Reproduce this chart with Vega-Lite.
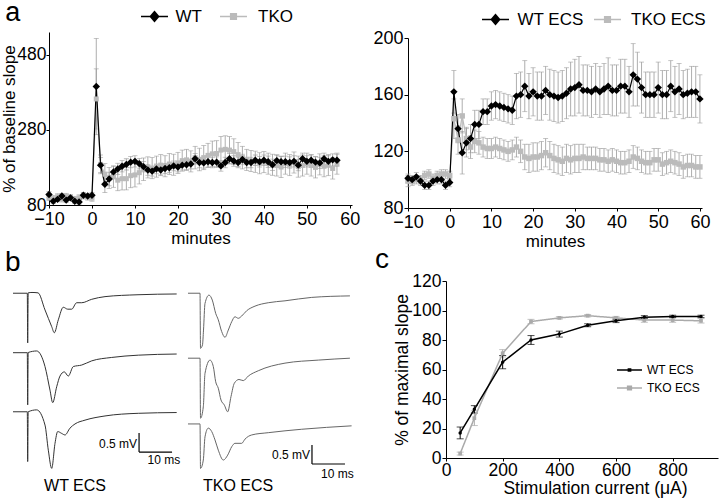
{
"$schema": "https://vega.github.io/schema/vega-lite/v6.json",
"width": 720, "height": 498,
"autosize": {"type": "none"},
"padding": 0,
"background": "white",
"config": {
  "font": "Liberation Sans",
  "view": {"stroke": null},
  "axis": {"domainColor": "#000", "tickColor": "#000", "labelColor": "#000", "titleColor": "#000", "grid": false, "labelFont": "Liberation Sans", "titleFont": "Liberation Sans", "titleFontWeight": "normal", "domainWidth": 1, "tickWidth": 1, "labelFlush": false, "labelOverlap": false},
  "legend": {"labelFont": "Liberation Sans", "labelColor": "#000"},
  "text": {"font": "Liberation Sans", "color": "#000"}
},
"datasets": {
  "aL": [
    {"t":-10,"g":"TKO","m":100,"e":8},{"t":-9,"g":"TKO","m":97,"e":8},{"t":-8,"g":"TKO","m":102,"e":8},{"t":-7,"g":"TKO","m":96,"e":8},{"t":-6,"g":"TKO","m":103,"e":8},{"t":-5,"g":"TKO","m":100,"e":8},{"t":-4,"g":"TKO","m":95,"e":8},{"t":-3,"g":"TKO","m":99,"e":8},{"t":-2,"g":"TKO","m":104,"e":8},{"t":-1,"g":"TKO","m":101,"e":8},{"t":0,"g":"TKO","m":98,"e":8},
    {"t":1,"g":"TKO","m":362,"e":80},{"t":2,"g":"TKO","m":188,"e":25},{"t":3,"g":"TKO","m":162,"e":28},{"t":4,"g":"TKO","m":152,"e":28},{"t":5,"g":"TKO","m":155,"e":28},{"t":6,"g":"TKO","m":146,"e":28},{"t":7,"g":"TKO","m":150,"e":30},{"t":8,"g":"TKO","m":150,"e":30},{"t":9,"g":"TKO","m":158,"e":32},{"t":10,"g":"TKO","m":160,"e":32},
    {"t":11,"g":"TKO","m":166,"e":30},{"t":12,"g":"TKO","m":175,"e":30},{"t":13,"g":"TKO","m":180,"e":28},{"t":14,"g":"TKO","m":178,"e":28},{"t":15,"g":"TKO","m":182,"e":28},{"t":16,"g":"TKO","m":186,"e":28},{"t":17,"g":"TKO","m":183,"e":28},{"t":18,"g":"TKO","m":189,"e":28},{"t":19,"g":"TKO","m":187,"e":28},{"t":20,"g":"TKO","m":192,"e":28},
    {"t":21,"g":"TKO","m":198,"e":28},{"t":22,"g":"TKO","m":200,"e":28},{"t":23,"g":"TKO","m":196,"e":28},{"t":24,"g":"TKO","m":206,"e":30},{"t":25,"g":"TKO","m":201,"e":30},{"t":26,"g":"TKO","m":206,"e":32},{"t":27,"g":"TKO","m":212,"e":32},{"t":28,"g":"TKO","m":216,"e":34},{"t":29,"g":"TKO","m":217,"e":34},{"t":30,"g":"TKO","m":226,"e":36},
    {"t":31,"g":"TKO","m":228,"e":36},{"t":32,"g":"TKO","m":226,"e":36},{"t":33,"g":"TKO","m":222,"e":34},{"t":34,"g":"TKO","m":214,"e":32},{"t":35,"g":"TKO","m":206,"e":30},{"t":36,"g":"TKO","m":200,"e":28},{"t":37,"g":"TKO","m":197,"e":28},{"t":38,"g":"TKO","m":195,"e":28},{"t":39,"g":"TKO","m":191,"e":28},{"t":40,"g":"TKO","m":194,"e":28},
    {"t":41,"g":"TKO","m":190,"e":28},{"t":42,"g":"TKO","m":187,"e":28},{"t":43,"g":"TKO","m":185,"e":28},{"t":44,"g":"TKO","m":181,"e":28},{"t":45,"g":"TKO","m":190,"e":28},{"t":46,"g":"TKO","m":186,"e":28},{"t":47,"g":"TKO","m":193,"e":28},{"t":48,"g":"TKO","m":182,"e":28},{"t":49,"g":"TKO","m":185,"e":28},{"t":50,"g":"TKO","m":190,"e":28},
    {"t":51,"g":"TKO","m":185,"e":28},{"t":52,"g":"TKO","m":180,"e":28},{"t":53,"g":"TKO","m":188,"e":28},{"t":54,"g":"TKO","m":183,"e":28},{"t":55,"g":"TKO","m":186,"e":28},{"t":56,"g":"TKO","m":177,"e":28},{"t":57,"g":"TKO","m":190,"e":28},
    {"t":-10,"g":"WT","m":108,"e":8},{"t":-9,"g":"WT","m":90,"e":6},{"t":-8,"g":"WT","m":95,"e":6},{"t":-7,"g":"WT","m":104,"e":6},{"t":-6,"g":"WT","m":93,"e":6},{"t":-5,"g":"WT","m":99,"e":6},{"t":-4,"g":"WT","m":90,"e":6},{"t":-3,"g":"WT","m":88,"e":6},{"t":-2,"g":"WT","m":106,"e":7},{"t":-1,"g":"WT","m":104,"e":6},{"t":0,"g":"WT","m":106,"e":7},
    {"t":1,"g":"WT","m":395,"e":128},{"t":2,"g":"WT","m":186,"e":20},{"t":3,"g":"WT","m":135,"e":22},{"t":4,"g":"WT","m":149,"e":18},{"t":5,"g":"WT","m":168,"e":16},{"t":6,"g":"WT","m":176,"e":15},{"t":7,"g":"WT","m":183,"e":15},{"t":8,"g":"WT","m":188,"e":15},{"t":9,"g":"WT","m":194,"e":15},{"t":10,"g":"WT","m":196,"e":15},
    {"t":11,"g":"WT","m":190,"e":14},{"t":12,"g":"WT","m":182,"e":14},{"t":13,"g":"WT","m":173,"e":14},{"t":14,"g":"WT","m":170,"e":13},{"t":15,"g":"WT","m":176,"e":13},{"t":16,"g":"WT","m":173,"e":13},{"t":17,"g":"WT","m":177,"e":13},{"t":18,"g":"WT","m":179,"e":13},{"t":19,"g":"WT","m":184,"e":13},{"t":20,"g":"WT","m":181,"e":13},
    {"t":21,"g":"WT","m":186,"e":13},{"t":22,"g":"WT","m":187,"e":13},{"t":23,"g":"WT","m":189,"e":13},{"t":24,"g":"WT","m":203,"e":14},{"t":25,"g":"WT","m":193,"e":14},{"t":26,"g":"WT","m":192,"e":14},{"t":27,"g":"WT","m":195,"e":14},{"t":28,"g":"WT","m":193,"e":14},{"t":29,"g":"WT","m":194,"e":14},{"t":30,"g":"WT","m":184,"e":14},
    {"t":31,"g":"WT","m":193,"e":14},{"t":32,"g":"WT","m":203,"e":14},{"t":33,"g":"WT","m":197,"e":14},{"t":34,"g":"WT","m":193,"e":14},{"t":35,"g":"WT","m":201,"e":14},{"t":36,"g":"WT","m":193,"e":14},{"t":37,"g":"WT","m":193,"e":14},{"t":38,"g":"WT","m":199,"e":14},{"t":39,"g":"WT","m":195,"e":14},{"t":40,"g":"WT","m":199,"e":14},
    {"t":41,"g":"WT","m":195,"e":15},{"t":42,"g":"WT","m":187,"e":15},{"t":43,"g":"WT","m":198,"e":15},{"t":44,"g":"WT","m":195,"e":15},{"t":45,"g":"WT","m":195,"e":15},{"t":46,"g":"WT","m":193,"e":15},{"t":47,"g":"WT","m":196,"e":15},{"t":48,"g":"WT","m":186,"e":15},{"t":49,"g":"WT","m":203,"e":15},{"t":50,"g":"WT","m":196,"e":15},
    {"t":51,"g":"WT","m":199,"e":15},{"t":52,"g":"WT","m":194,"e":15},{"t":53,"g":"WT","m":192,"e":15},{"t":54,"g":"WT","m":203,"e":15},{"t":55,"g":"WT","m":196,"e":15},{"t":56,"g":"WT","m":200,"e":16},{"t":57,"g":"WT","m":199,"e":16}
  ],
  "aR": [
    {"t":-10,"g":"TKO ECS","m":99,"e":4},{"t":-9,"g":"TKO ECS","m":99,"e":3},{"t":-8,"g":"TKO ECS","m":100,"e":3},{"t":-7,"g":"TKO ECS","m":100,"e":3},{"t":-6,"g":"TKO ECS","m":103,"e":3},{"t":-5,"g":"TKO ECS","m":104,"e":3},{"t":-4,"g":"TKO ECS","m":101,"e":3},{"t":-3,"g":"TKO ECS","m":103,"e":3},{"t":-2,"g":"TKO ECS","m":104,"e":3},{"t":-1,"g":"TKO ECS","m":104,"e":3},{"t":0,"g":"TKO ECS","m":103,"e":3},
    {"t":1,"g":"TKO ECS","m":143,"e":14},{"t":2,"g":"TKO ECS","m":128,"e":10},{"t":3,"g":"TKO ECS","m":145,"e":12},{"t":4,"g":"TKO ECS","m":129,"e":8},{"t":5,"g":"TKO ECS","m":123,"e":8},{"t":6,"g":"TKO ECS","m":127,"e":8},{"t":7,"g":"TKO ECS","m":126,"e":8},{"t":8,"g":"TKO ECS","m":123,"e":7},{"t":9,"g":"TKO ECS","m":122,"e":7},{"t":10,"g":"TKO ECS","m":122,"e":7},
    {"t":11,"g":"TKO ECS","m":123,"e":7},{"t":12,"g":"TKO ECS","m":122,"e":7},{"t":13,"g":"TKO ECS","m":121,"e":7},{"t":14,"g":"TKO ECS","m":120,"e":7},{"t":15,"g":"TKO ECS","m":121,"e":7},{"t":16,"g":"TKO ECS","m":123,"e":7},{"t":17,"g":"TKO ECS","m":120,"e":8},{"t":18,"g":"TKO ECS","m":116,"e":9},{"t":19,"g":"TKO ECS","m":115,"e":10},{"t":20,"g":"TKO ECS","m":116,"e":10},
    {"t":21,"g":"TKO ECS","m":116,"e":10},{"t":22,"g":"TKO ECS","m":117,"e":10},{"t":23,"g":"TKO ECS","m":119,"e":10},{"t":24,"g":"TKO ECS","m":117,"e":10},{"t":25,"g":"TKO ECS","m":115,"e":10},{"t":26,"g":"TKO ECS","m":114,"e":10},{"t":27,"g":"TKO ECS","m":113,"e":10},{"t":28,"g":"TKO ECS","m":115,"e":10},{"t":29,"g":"TKO ECS","m":114,"e":10},{"t":30,"g":"TKO ECS","m":115,"e":10},
    {"t":31,"g":"TKO ECS","m":115,"e":10},{"t":32,"g":"TKO ECS","m":116,"e":9},{"t":33,"g":"TKO ECS","m":115,"e":8},{"t":34,"g":"TKO ECS","m":115,"e":8},{"t":35,"g":"TKO ECS","m":115,"e":8},{"t":36,"g":"TKO ECS","m":114,"e":8},{"t":37,"g":"TKO ECS","m":114,"e":8},{"t":38,"g":"TKO ECS","m":113,"e":8},{"t":39,"g":"TKO ECS","m":114,"e":8},{"t":40,"g":"TKO ECS","m":113,"e":8},
    {"t":41,"g":"TKO ECS","m":112,"e":8},{"t":42,"g":"TKO ECS","m":112,"e":8},{"t":43,"g":"TKO ECS","m":113,"e":8},{"t":44,"g":"TKO ECS","m":116,"e":8},{"t":45,"g":"TKO ECS","m":115,"e":8},{"t":46,"g":"TKO ECS","m":113,"e":8},{"t":47,"g":"TKO ECS","m":112,"e":8},{"t":48,"g":"TKO ECS","m":112,"e":8},{"t":49,"g":"TKO ECS","m":114,"e":8},{"t":50,"g":"TKO ECS","m":114,"e":8},
    {"t":51,"g":"TKO ECS","m":111,"e":8},{"t":52,"g":"TKO ECS","m":112,"e":8},{"t":53,"g":"TKO ECS","m":113,"e":8},{"t":54,"g":"TKO ECS","m":112,"e":8},{"t":55,"g":"TKO ECS","m":111,"e":8},{"t":56,"g":"TKO ECS","m":109,"e":8},{"t":57,"g":"TKO ECS","m":110,"e":8},{"t":58,"g":"TKO ECS","m":110,"e":8},{"t":59,"g":"TKO ECS","m":109,"e":8},{"t":60,"g":"TKO ECS","m":109,"e":8},
    {"t":-10,"g":"WT ECS","m":101,"e":3},{"t":-9,"g":"WT ECS","m":100,"e":3},{"t":-8,"g":"WT ECS","m":102,"e":3},{"t":-7,"g":"WT ECS","m":99,"e":3},{"t":-6,"g":"WT ECS","m":96,"e":3},{"t":-5,"g":"WT ECS","m":96,"e":3},{"t":-4,"g":"WT ECS","m":99,"e":3},{"t":-3,"g":"WT ECS","m":100,"e":3},{"t":-2,"g":"WT ECS","m":100,"e":3},{"t":-1,"g":"WT ECS","m":96,"e":3},{"t":0,"g":"WT ECS","m":98,"e":3},
    {"t":1,"g":"WT ECS","m":162,"e":15},{"t":2,"g":"WT ECS","m":136,"e":10},{"t":3,"g":"WT ECS","m":119,"e":15},{"t":4,"g":"WT ECS","m":126,"e":10},{"t":5,"g":"WT ECS","m":129,"e":10},{"t":6,"g":"WT ECS","m":139,"e":10},{"t":7,"g":"WT ECS","m":139,"e":10},{"t":8,"g":"WT ECS","m":148,"e":9},{"t":9,"g":"WT ECS","m":148,"e":9},{"t":10,"g":"WT ECS","m":152,"e":10},
    {"t":11,"g":"WT ECS","m":153,"e":10},{"t":12,"g":"WT ECS","m":152,"e":10},{"t":13,"g":"WT ECS","m":151,"e":10},{"t":14,"g":"WT ECS","m":150,"e":10},{"t":15,"g":"WT ECS","m":149,"e":10},{"t":16,"g":"WT ECS","m":159,"e":16},{"t":17,"g":"WT ECS","m":160,"e":16},{"t":18,"g":"WT ECS","m":166,"e":18},{"t":19,"g":"WT ECS","m":159,"e":16},{"t":20,"g":"WT ECS","m":162,"e":17},
    {"t":21,"g":"WT ECS","m":159,"e":17},{"t":22,"g":"WT ECS","m":159,"e":17},{"t":23,"g":"WT ECS","m":163,"e":17},{"t":24,"g":"WT ECS","m":160,"e":18},{"t":25,"g":"WT ECS","m":159,"e":18},{"t":26,"g":"WT ECS","m":158,"e":18},{"t":27,"g":"WT ECS","m":159,"e":18},{"t":28,"g":"WT ECS","m":161,"e":18},{"t":29,"g":"WT ECS","m":164,"e":19},{"t":30,"g":"WT ECS","m":165,"e":20},
    {"t":31,"g":"WT ECS","m":167,"e":20},{"t":32,"g":"WT ECS","m":163,"e":18},{"t":33,"g":"WT ECS","m":163,"e":18},{"t":34,"g":"WT ECS","m":162,"e":18},{"t":35,"g":"WT ECS","m":164,"e":18},{"t":36,"g":"WT ECS","m":162,"e":18},{"t":37,"g":"WT ECS","m":164,"e":18},{"t":38,"g":"WT ECS","m":166,"e":20},{"t":39,"g":"WT ECS","m":163,"e":18},{"t":40,"g":"WT ECS","m":163,"e":18},
    {"t":41,"g":"WT ECS","m":166,"e":19},{"t":42,"g":"WT ECS","m":166,"e":19},{"t":43,"g":"WT ECS","m":162,"e":18},{"t":44,"g":"WT ECS","m":174,"e":22},{"t":45,"g":"WT ECS","m":171,"e":19},{"t":46,"g":"WT ECS","m":165,"e":18},{"t":47,"g":"WT ECS","m":160,"e":16},{"t":48,"g":"WT ECS","m":160,"e":16},{"t":49,"g":"WT ECS","m":160,"e":16},{"t":50,"g":"WT ECS","m":165,"e":18},
    {"t":51,"g":"WT ECS","m":160,"e":17},{"t":52,"g":"WT ECS","m":160,"e":17},{"t":53,"g":"WT ECS","m":166,"e":18},{"t":54,"g":"WT ECS","m":162,"e":18},{"t":55,"g":"WT ECS","m":164,"e":18},{"t":56,"g":"WT ECS","m":160,"e":17},{"t":57,"g":"WT ECS","m":161,"e":17},{"t":58,"g":"WT ECS","m":162,"e":18},{"t":59,"g":"WT ECS","m":162,"e":18},{"t":60,"g":"WT ECS","m":157,"e":17}
  ],
  "tr": [
    {"tr":"W1","c":"WT","t":0,"v":5.31},{"tr":"W1","c":"WT","t":4.33,"v":5.31},{"tr":"W1","c":"WT","t":4.45,"v":4.0},{"tr":"W1","c":"WT","t":4.6,"v":5.32},{"tr":"W1","c":"WT","t":5.76,"v":5.33},{"tr":"W1","c":"WT","t":7.58,"v":5.32},{"tr":"W1","c":"WT","t":9.7,"v":4.87},{"tr":"W1","c":"WT","t":11.73,"v":4.43},{"tr":"W1","c":"WT","t":12.52,"v":4.27},{"tr":"W1","c":"WT","t":13.73,"v":4.61},{"tr":"W1","c":"WT","t":15.24,"v":4.94},{"tr":"W1","c":"WT","t":16.58,"v":4.89},{"tr":"W1","c":"WT","t":17.79,"v":4.89},{"tr":"W1","c":"WT","t":19.3,"v":5.06},{"tr":"W1","c":"WT","t":20.82,"v":5.06},{"tr":"W1","c":"WT","t":23.85,"v":5.15},{"tr":"W1","c":"WT","t":27.88,"v":5.22},{"tr":"W1","c":"WT","t":37.88,"v":5.27},{"tr":"W1","c":"WT","t":49.6,"v":5.29},
    {"tr":"W2","c":"WT","t":0,"v":3.745},{"tr":"W2","c":"WT","t":4.33,"v":3.745},{"tr":"W2","c":"WT","t":4.45,"v":2.37},{"tr":"W2","c":"WT","t":4.6,"v":3.75},{"tr":"W2","c":"WT","t":7.18,"v":3.79},{"tr":"W2","c":"WT","t":9.7,"v":3.38},{"tr":"W2","c":"WT","t":11.21,"v":2.76},{"tr":"W2","c":"WT","t":12.03,"v":2.43},{"tr":"W2","c":"WT","t":13.24,"v":2.85},{"tr":"W2","c":"WT","t":14.24,"v":3.13},{"tr":"W2","c":"WT","t":15.55,"v":3.24},{"tr":"W2","c":"WT","t":16.76,"v":3.13},{"tr":"W2","c":"WT","t":18.27,"v":3.38},{"tr":"W2","c":"WT","t":20.82,"v":3.42},{"tr":"W2","c":"WT","t":23.85,"v":3.53},{"tr":"W2","c":"WT","t":29.9,"v":3.62},{"tr":"W2","c":"WT","t":37.97,"v":3.68},{"tr":"W2","c":"WT","t":49.6,"v":3.71},
    {"tr":"W3","c":"WT","t":0,"v":2.19},{"tr":"W3","c":"WT","t":4.33,"v":2.19},{"tr":"W3","c":"WT","t":4.45,"v":0.88},{"tr":"W3","c":"WT","t":4.6,"v":2.19},{"tr":"W3","c":"WT","t":7.18,"v":2.24},{"tr":"W3","c":"WT","t":9.7,"v":1.84},{"tr":"W3","c":"WT","t":10.7,"v":1.18},{"tr":"W3","c":"WT","t":11.73,"v":0.7},{"tr":"W3","c":"WT","t":12.73,"v":1.36},{"tr":"W3","c":"WT","t":13.55,"v":1.67},{"tr":"W3","c":"WT","t":14.76,"v":1.62},{"tr":"W3","c":"WT","t":15.76,"v":1.58},{"tr":"W3","c":"WT","t":17.27,"v":1.76},{"tr":"W3","c":"WT","t":18.79,"v":1.87},{"tr":"W3","c":"WT","t":21.82,"v":1.97},{"tr":"W3","c":"WT","t":27.88,"v":2.08},{"tr":"W3","c":"WT","t":37.97,"v":2.15},{"tr":"W3","c":"WT","t":49.6,"v":2.17},
    {"tr":"K1","c":"TKO","t":53.03,"v":5.31},{"tr":"K1","c":"TKO","t":56.67,"v":5.31},{"tr":"K1","c":"TKO","t":56.82,"v":3.86},{"tr":"K1","c":"TKO","t":57.42,"v":3.95},{"tr":"K1","c":"TKO","t":57.73,"v":4.34},{"tr":"K1","c":"TKO","t":58.18,"v":5.04},{"tr":"K1","c":"TKO","t":59.39,"v":5.26},{"tr":"K1","c":"TKO","t":60.39,"v":5.13},{"tr":"K1","c":"TKO","t":61.42,"v":4.78},{"tr":"K1","c":"TKO","t":62.21,"v":4.61},{"tr":"K1","c":"TKO","t":63.24,"v":4.3},{"tr":"K1","c":"TKO","t":64.24,"v":4.15},{"tr":"K1","c":"TKO","t":65.24,"v":4.34},{"tr":"K1","c":"TKO","t":66.27,"v":4.56},{"tr":"K1","c":"TKO","t":67.27,"v":4.69},{"tr":"K1","c":"TKO","t":68.27,"v":4.65},{"tr":"K1","c":"TKO","t":69.3,"v":4.71},{"tr":"K1","c":"TKO","t":70.82,"v":4.85},{"tr":"K1","c":"TKO","t":73.33,"v":4.97},{"tr":"K1","c":"TKO","t":77.36,"v":5.06},{"tr":"K1","c":"TKO","t":82.42,"v":5.11},{"tr":"K1","c":"TKO","t":90.52,"v":5.2},{"tr":"K1","c":"TKO","t":102.1,"v":5.24},
    {"tr":"K2","c":"TKO","t":53.03,"v":3.6},{"tr":"K2","c":"TKO","t":56.67,"v":3.6},{"tr":"K2","c":"TKO","t":56.82,"v":2.02},{"tr":"K2","c":"TKO","t":57.67,"v":2.32},{"tr":"K2","c":"TKO","t":58.18,"v":3.2},{"tr":"K2","c":"TKO","t":59.7,"v":3.55},{"tr":"K2","c":"TKO","t":60.7,"v":3.38},{"tr":"K2","c":"TKO","t":61.42,"v":2.98},{"tr":"K2","c":"TKO","t":62.21,"v":2.81},{"tr":"K2","c":"TKO","t":63.03,"v":2.5},{"tr":"K2","c":"TKO","t":64.03,"v":2.37},{"tr":"K2","c":"TKO","t":65.06,"v":2.19},{"tr":"K2","c":"TKO","t":66.06,"v":2.59},{"tr":"K2","c":"TKO","t":67.06,"v":2.94},{"tr":"K2","c":"TKO","t":68.48,"v":3.04},{"tr":"K2","c":"TKO","t":69.79,"v":3.01},{"tr":"K2","c":"TKO","t":71.3,"v":3.13},{"tr":"K2","c":"TKO","t":74.33,"v":3.27},{"tr":"K2","c":"TKO","t":82.42,"v":3.47},{"tr":"K2","c":"TKO","t":92.52,"v":3.55},{"tr":"K2","c":"TKO","t":102.1,"v":3.6},
    {"tr":"K3","c":"TKO","t":53.03,"v":1.87},{"tr":"K3","c":"TKO","t":56.67,"v":1.87},{"tr":"K3","c":"TKO","t":56.82,"v":0.7},{"tr":"K3","c":"TKO","t":57.67,"v":0.92},{"tr":"K3","c":"TKO","t":58.18,"v":1.53},{"tr":"K3","c":"TKO","t":59.18,"v":1.76},{"tr":"K3","c":"TKO","t":60.21,"v":1.67},{"tr":"K3","c":"TKO","t":61.21,"v":1.45},{"tr":"K3","c":"TKO","t":62.21,"v":1.18},{"tr":"K3","c":"TKO","t":63.73,"v":0.92},{"tr":"K3","c":"TKO","t":65.06,"v":1.05},{"tr":"K3","c":"TKO","t":66.27,"v":1.27},{"tr":"K3","c":"TKO","t":67.27,"v":1.36},{"tr":"K3","c":"TKO","t":69.3,"v":1.36},{"tr":"K3","c":"TKO","t":70.3,"v":1.47},{"tr":"K3","c":"TKO","t":72.33,"v":1.58},{"tr":"K3","c":"TKO","t":77.36,"v":1.64},{"tr":"K3","c":"TKO","t":87.48,"v":1.73},{"tr":"K3","c":"TKO","t":102.6,"v":1.82}
  ],
  "c": [
    {"x":50,"g":"TKO ECS","m":3,"e":1},{"x":100,"g":"TKO ECS","m":27,"e":5},{"x":200,"g":"TKO ECS","m":71,"e":2.5},{"x":300,"g":"TKO ECS","m":92.5,"e":1.5},{"x":400,"g":"TKO ECS","m":95,"e":0.8},{"x":500,"g":"TKO ECS","m":96.5,"e":0.8},{"x":600,"g":"TKO ECS","m":95,"e":1},{"x":700,"g":"TKO ECS","m":93.5,"e":1.5},{"x":800,"g":"TKO ECS","m":93.5,"e":1.5},{"x":900,"g":"TKO ECS","m":93,"e":1.5},
    {"x":50,"g":"WT ECS","m":17,"e":4},{"x":100,"g":"WT ECS","m":33,"e":2.5},{"x":200,"g":"WT ECS","m":65,"e":4.5},{"x":300,"g":"WT ECS","m":80,"e":3},{"x":400,"g":"WT ECS","m":84,"e":2},{"x":500,"g":"WT ECS","m":90,"e":1},{"x":600,"g":"WT ECS","m":93,"e":1.2},{"x":700,"g":"WT ECS","m":95.5,"e":1},{"x":800,"g":"WT ECS","m":96,"e":0.8},{"x":900,"g":"WT ECS","m":96,"e":0.8}
  ]
},
"resolve": {"scale": {"x": "independent", "y": "independent", "color": "independent", "strokeDash": "independent"}, "axis": {"x": "independent", "y": "independent"}, "legend": {"color": "independent", "strokeDash": "independent"}},
"layer": [
  {
    "data": {"name": "aL"},
    "encoding": {
      "x": {"field": "t", "type": "quantitative", "scale": {"domain": [-10, 60.5], "range": [49, 352], "nice": false, "zero": false},
        "axis": {"orient": "bottom", "offset": -293, "values": [-10, 0, 10, 20, 30, 40, 50, 60], "title": "minutes", "tickSize": 3, "labelPadding": 2, "labelFontSize": 18, "titleFontSize": 17, "titlePadding": 2}},
      "y": {"field": "m", "type": "quantitative", "scale": {"domain": [80, 540], "range": [205, 32], "nice": false, "zero": false},
        "axis": {"orient": "left", "offset": -49, "values": [80, 280, 480], "title": "% of baseline slope", "tickSize": 3, "labelPadding": 0, "labelFontSize": 17.5, "titleFontSize": 17, "titlePadding": -1.5}}
    },
    "layer": [
      {"mark": {"type": "errorbar", "ticks": true, "size": 5, "thickness": 0.8, "color": "#999999"}, "encoding": {"yError": {"field": "e"}}},
      {"transform": [{"filter": "datum.g == 'TKO'"}], "mark": {"type": "line", "strokeWidth": 1.2, "color": "#bbbbbb"},
       "encoding": {"strokeDash": {"field": "g", "type": "nominal", "scale": {"domain": ["TKO"], "range": [[1, 0]]},
        "legend": {"orient": "none", "legendX": 225, "legendY": 8, "title": null, "labelFontSize": 17, "symbolSize": 182, "symbolStrokeWidth": 1.5, "symbolStrokeColor": "#bbbbbb", "labelOffset": 16, "padding": 0,
          "symbolType": "M-2,0H2M-0.42,-0.42H0.42V0.42H-0.42ZM-0.2,-0.2H0.2V0.2H-0.2Z"}}}},
      {"transform": [{"filter": "datum.g == 'WT'"}], "mark": {"type": "line", "strokeWidth": 1.2},
       "encoding": {"color": {"field": "g", "type": "nominal", "scale": {"domain": ["WT"], "range": ["#000000"]},
        "legend": {"orient": "none", "legendX": 146, "legendY": 8, "title": null, "labelFontSize": 17, "symbolSize": 182, "symbolStrokeWidth": 1.5, "labelOffset": 12.5, "padding": 0,
          "symbolType": "M-2,0H2M-0.62,0L0,-0.72L0.62,0L0,0.72ZM-0.32,0L0,-0.38L0.32,0L0,0.38ZM0,-0.72V0.72"}}}},
      {"transform": [{"filter": "datum.g == 'TKO'"}], "mark": {"type": "point", "shape": "square", "filled": true, "size": 25, "color": "#bbbbbb", "opacity": 1}},
      {"transform": [{"filter": "datum.g == 'WT'"}], "mark": {"type": "point", "shape": "diamond", "filled": true, "size": 55, "color": "#000000", "opacity": 1}},
      {"data": {"values": [{"t": -20.2, "m": 570, "lab": "a"}]}, "mark": {"type": "text", "fontSize": 27, "align": "left", "baseline": "alphabetic"}, "encoding": {"text": {"field": "lab"}}}
    ]
  },
  {
    "data": {"name": "aR"},
    "encoding": {
      "x": {"field": "t", "type": "quantitative", "scale": {"domain": [-10, 60.5], "range": [408, 702], "nice": false, "zero": false},
        "axis": {"orient": "bottom", "offset": -290, "values": [-10, 0, 10, 20, 30, 40, 50, 60], "title": "minutes", "tickSize": 3, "labelPadding": 2, "labelFontSize": 18, "titleFontSize": 17, "titlePadding": 2}},
      "y": {"field": "m", "type": "quantitative", "scale": {"domain": [80, 200], "range": [208, 38], "nice": false, "zero": false},
        "axis": {"orient": "left", "offset": -408, "values": [80, 120, 160, 200], "title": null, "tickSize": 4, "labelPadding": 1, "labelFontSize": 18}}
    },
    "layer": [
      {"mark": {"type": "errorbar", "ticks": true, "size": 5, "thickness": 0.8, "color": "#999999"}, "encoding": {"yError": {"field": "e"}}},
      {"transform": [{"filter": "datum.g == 'TKO ECS'"}], "mark": {"type": "line", "strokeWidth": 1.2, "color": "#bbbbbb"},
       "encoding": {"strokeDash": {"field": "g", "type": "nominal", "scale": {"domain": ["TKO ECS"], "range": [[1, 0]]},
        "legend": {"orient": "none", "legendX": 599, "legendY": 11, "title": null, "labelFontSize": 17, "symbolSize": 182, "symbolStrokeWidth": 1.5, "symbolStrokeColor": "#bbbbbb", "labelOffset": 15, "padding": 0,
          "symbolType": "M-2,0H2M-0.42,-0.42H0.42V0.42H-0.42ZM-0.2,-0.2H0.2V0.2H-0.2Z"}}}},
      {"transform": [{"filter": "datum.g == 'WT ECS'"}], "mark": {"type": "line", "strokeWidth": 1.2},
       "encoding": {"color": {"field": "g", "type": "nominal", "scale": {"domain": ["WT ECS"], "range": ["#000000"]},
        "legend": {"orient": "none", "legendX": 487, "legendY": 11, "title": null, "labelFontSize": 17, "symbolSize": 182, "symbolStrokeWidth": 1.5, "labelOffset": 13.5, "padding": 0,
          "symbolType": "M-2,0H2M-0.62,0L0,-0.72L0.62,0L0,0.72ZM-0.32,0L0,-0.38L0.32,0L0,0.38ZM0,-0.72V0.72"}}}},
      {"transform": [{"filter": "datum.g == 'TKO ECS'"}], "mark": {"type": "point", "shape": "square", "filled": true, "size": 30, "color": "#bbbbbb", "opacity": 1}},
      {"transform": [{"filter": "datum.g == 'WT ECS'"}], "mark": {"type": "point", "shape": "diamond", "filled": true, "size": 55, "color": "#000000", "opacity": 1}}
    ]
  },
  {
    "data": {"name": "tr"},
    "encoding": {
      "x": {"field": "t", "type": "quantitative", "scale": {"domain": [0, 105], "range": [13, 359.5], "nice": false, "zero": false}, "axis": null},
      "y": {"field": "v", "type": "quantitative", "scale": {"domain": [0, 5], "range": [495, 305], "nice": false, "zero": false}, "axis": null}
    },
    "layer": [
      {"mark": {"type": "line", "interpolate": "monotone", "strokeWidth": 1}, "encoding": {"detail": {"field": "tr"}, "color": {"field": "c", "type": "nominal", "scale": {"domain": ["WT", "TKO"], "range": ["#333333", "#666666"]}, "legend": null}}},
      {"data": {"values": [{"t": 38.2, "t2": 38.2, "v": 1.13, "v2": 1.63}, {"t": 38.2, "t2": 48.2, "v": 1.13, "v2": 1.13}, {"t": 90.6, "t2": 90.6, "v": 0.816, "v2": 1.316}, {"t": 90.6, "t2": 100.6, "v": 0.816, "v2": 0.816}]},
       "mark": {"type": "rule", "color": "#000000", "strokeWidth": 1.2}, "encoding": {"x2": {"field": "t2"}, "y2": {"field": "v2"}}},
      {"data": {"values": [{"t": 37.6, "v": 1.34, "txt": "0.5 mV"}, {"t": 90.0, "v": 1.05, "txt": "0.5 mV"}]},
       "mark": {"type": "text", "align": "right", "baseline": "middle", "fontSize": 12}, "encoding": {"text": {"field": "txt"}}},
      {"data": {"values": [{"t": 45.7, "v": 0.92, "txt": "10 ms"}, {"t": 98.3, "v": 0.55, "txt": "10 ms"}]},
       "mark": {"type": "text", "align": "center", "baseline": "middle", "fontSize": 12}, "encoding": {"text": {"field": "txt"}}},
      {"data": {"values": [{"t": 18.8, "v": 0.1, "txt": "WT ECS"}, {"t": 68.2, "v": 0.1, "txt": "TKO ECS"}]},
       "mark": {"type": "text", "align": "center", "baseline": "alphabetic", "fontSize": 16}, "encoding": {"text": {"field": "txt"}}},
      {"data": {"values": [{"t": -2.42, "v": 5.89, "txt": "b"}]}, "mark": {"type": "text", "fontSize": 28, "align": "left", "baseline": "alphabetic"}, "encoding": {"text": {"field": "txt"}}}
    ]
  },
  {
    "data": {"name": "c"},
    "encoding": {
      "x": {"field": "x", "type": "quantitative", "scale": {"domain": [0, 960], "range": [446, 718], "nice": false, "zero": false},
        "axis": {"orient": "bottom", "offset": -40, "values": [0, 200, 400, 600, 800], "title": "Stimulation current (μA)", "tickSize": 3, "labelPadding": 0, "labelFontSize": 17.5, "titleFontSize": 17.5, "titlePadding": 1, "titleX": 595}},
      "y": {"field": "m", "type": "quantitative", "scale": {"domain": [0, 120], "range": [458, 281], "nice": false, "zero": false},
        "axis": {"orient": "left", "offset": -446, "values": [0, 20, 40, 60, 80, 100, 120], "title": "% of maximal slope", "tickSize": 4, "labelPadding": 1, "labelFontSize": 17.5, "titleFontSize": 17.5, "titlePadding": 0}}
    },
    "layer": [
      {"transform": [{"filter": "datum.g == 'TKO ECS'"}], "mark": {"type": "errorbar", "ticks": true, "size": 7, "thickness": 1, "color": "#aaaaaa"}, "encoding": {"yError": {"field": "e"}}},
      {"transform": [{"filter": "datum.g == 'WT ECS'"}], "mark": {"type": "errorbar", "ticks": true, "size": 7, "thickness": 1, "color": "#000000"}, "encoding": {"yError": {"field": "e"}}},
      {"transform": [{"filter": "datum.g == 'TKO ECS'"}], "mark": {"type": "line", "strokeWidth": 1.5, "color": "#aaaaaa"},
       "encoding": {"strokeDash": {"field": "g", "type": "nominal", "scale": {"domain": ["TKO ECS"], "range": [[1, 0]]},
        "legend": {"orient": "none", "legendX": 622.5, "legendY": 381, "title": null, "labelFontSize": 12, "symbolSize": 156, "symbolStrokeWidth": 1.5, "symbolStrokeColor": "#aaaaaa", "labelOffset": 10.5, "padding": 0,
          "symbolType": "M-2,0H2M-0.3,-0.3H0.3V0.3H-0.3ZM-0.1,-0.1H0.1V0.1H-0.1Z"}}}},
      {"transform": [{"filter": "datum.g == 'WT ECS'"}], "mark": {"type": "line", "strokeWidth": 1.5},
       "encoding": {"color": {"field": "g", "type": "nominal", "scale": {"domain": ["WT ECS"], "range": ["#000000"]},
        "legend": {"orient": "none", "legendX": 622.5, "legendY": 363, "title": null, "labelFontSize": 12, "symbolSize": 156, "symbolStrokeWidth": 1.5, "labelOffset": 10.5, "padding": 0,
          "symbolType": "M-2,0H2M-0.18,-0.18H0.18V0.18H-0.18Z"}}}},
      {"transform": [{"filter": "datum.g == 'TKO ECS'"}], "mark": {"type": "point", "shape": "square", "filled": true, "size": 14, "color": "#aaaaaa", "opacity": 1}},
      {"transform": [{"filter": "datum.g == 'WT ECS'"}], "mark": {"type": "point", "shape": "circle", "filled": true, "size": 12, "color": "#000000", "opacity": 1}},
      {"data": {"values": [{"x": -250.6, "m": 128.8, "lab": "c"}]}, "mark": {"type": "text", "fontSize": 28, "align": "left", "baseline": "alphabetic"}, "encoding": {"text": {"field": "lab"}}}
    ]
  }
]
}
